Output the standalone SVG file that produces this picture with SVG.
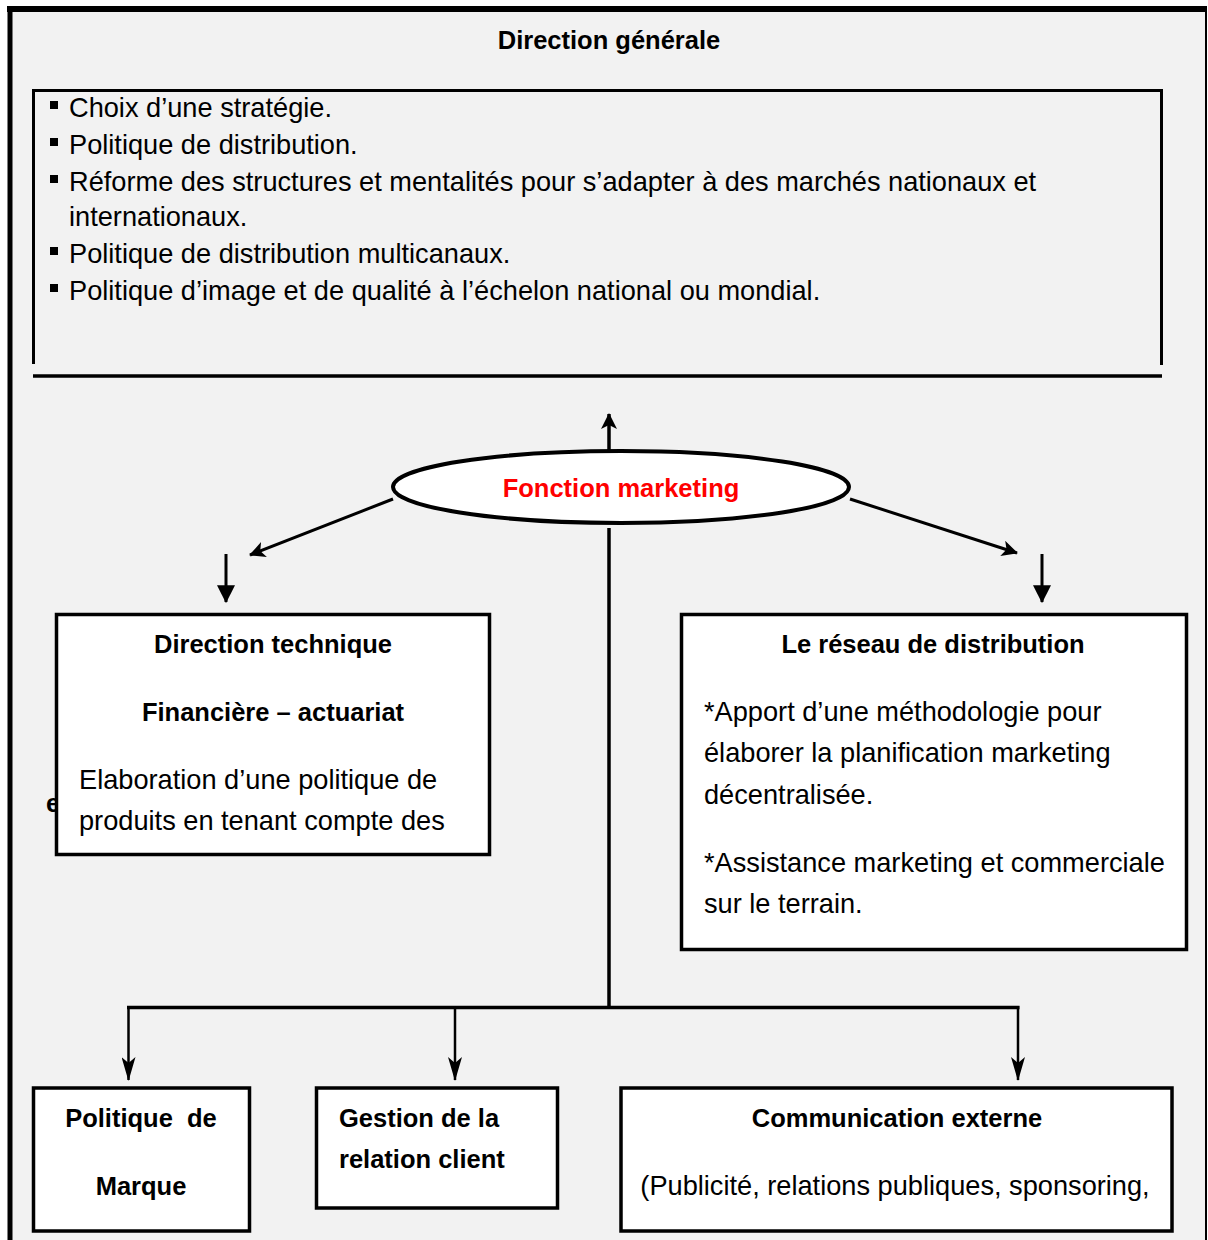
<svg xmlns="http://www.w3.org/2000/svg" width="1208" height="1240" viewBox="0 0 1208 1240">
  <style>
    .body { font-family: "Liberation Sans", Arial, sans-serif; font-size: 27.2px; fill: #000; }
    .bold { font-family: "Liberation Sans", Arial, sans-serif; font-size: 25.5px; font-weight: bold; fill: #000; }
    .title { font-family: "Liberation Sans", Arial, sans-serif; font-size: 25.5px; font-weight: bold; fill: #ff0000; }
    .box { fill: #ffffff; stroke: #000; stroke-width: 3.5; }
    .conn { stroke: #000; fill: none; }
    .mid { text-anchor: middle; }
  </style>
  <defs>
    <marker id="head" viewBox="0 0 16 16" refX="15" refY="8" markerWidth="16" markerHeight="16" markerUnits="userSpaceOnUse" orient="auto">
      <path d="M0,0 L16,8 L0,16 L4,8 z" fill="#000"/>
    </marker>
    <marker id="tri" viewBox="0 0 16 16" refX="15" refY="8" markerWidth="18" markerHeight="18" markerUnits="userSpaceOnUse" orient="auto">
      <path d="M0,0 L16,8 L0,16 z" fill="#000"/>
    </marker>
    <marker id="barb" viewBox="0 0 24 14" refX="23" refY="7" markerWidth="26" markerHeight="14" markerUnits="userSpaceOnUse" orient="auto">
      <path d="M0,0 L24,7 L0,14 L6,7 z" fill="#000"/>
    </marker>
  </defs>

  <!-- page background and outer frame -->
  <rect x="0" y="0" width="1208" height="1240" fill="#ffffff"/>
  <rect x="10" y="9" width="1196" height="1240" fill="#f2f2f2"/>
  <line x1="7" y1="9" x2="1207" y2="9" stroke="#000" stroke-width="6"/>
  <line x1="10" y1="6" x2="10" y2="1240" stroke="#000" stroke-width="5"/>
  <line x1="1206" y1="9" x2="1206" y2="1240" stroke="#000" stroke-width="2"/>

  <!-- Direction générale -->
  <g id="direction-generale">
    <text class="bold mid" x="609" y="49">Direction générale</text>
    <path class="conn" stroke-width="3" d="M33.5,364 V90.5 H1161.5 V365"/>
    <line class="conn" stroke-width="3.5" x1="33" y1="376" x2="1162" y2="376"/>
    <g fill="#000">
      <rect x="50" y="101" width="8" height="8"/>
      <rect x="50" y="138" width="8" height="8"/>
      <rect x="50" y="175" width="8" height="8"/>
      <rect x="50" y="247" width="8" height="8"/>
      <rect x="50" y="284" width="8" height="8"/>
    </g>
    <text class="body" x="69" y="117">Choix d’une stratégie.</text>
    <text class="body" x="69" y="154">Politique de distribution.</text>
    <text class="body" x="69" y="191">Réforme des structures et mentalités pour s’adapter à des marchés nationaux et</text>
    <text class="body" x="69" y="226">internationaux.</text>
    <text class="body" x="69" y="263">Politique de distribution multicanaux.</text>
    <text class="body" x="69" y="300">Politique d’image et de qualité à l’échelon national ou mondial.</text>
  </g>

  <!-- connectors -->
  <g id="connectors" class="conn">
    <line x1="609" y1="452" x2="609" y2="414" stroke-width="3.5" marker-end="url(#head)"/>
    <line x1="609" y1="528" x2="609" y2="1008" stroke-width="3.5"/>
    <line x1="393" y1="499" x2="250" y2="555" stroke-width="3" marker-end="url(#head)"/>
    <line x1="850" y1="499" x2="1017" y2="553" stroke-width="3" marker-end="url(#head)"/>
    <line x1="226" y1="554" x2="226" y2="602" stroke-width="3" marker-end="url(#tri)"/>
    <line x1="1042" y1="554" x2="1042" y2="602" stroke-width="3" marker-end="url(#tri)"/>
    <line x1="127" y1="1007.5" x2="1019.5" y2="1007.5" stroke-width="3.5"/>
    <line x1="128.5" y1="1006" x2="128.5" y2="1080" stroke-width="2.5" marker-end="url(#barb)"/>
    <line x1="455" y1="1007" x2="455" y2="1080" stroke-width="2.5" marker-end="url(#barb)"/>
    <line x1="1018" y1="1006" x2="1018" y2="1080" stroke-width="2.5" marker-end="url(#barb)"/>
  </g>

  <!-- Fonction marketing -->
  <g id="fonction-marketing">
    <ellipse cx="621" cy="487" rx="228" ry="36" fill="#ffffff" stroke="#000" stroke-width="4"/>
    <text class="title mid" x="621" y="497">Fonction marketing</text>
  </g>

  <!-- Direction technique -->
  <g id="direction-technique">
    <text class="bold" x="46" y="812">e</text>
    <rect class="box" x="56.5" y="614.5" width="433" height="240"/>
    <text class="bold mid" x="273" y="653">Direction technique</text>
    <text class="bold mid" x="273" y="721">Financière – actuariat</text>
    <text class="body" x="79" y="789">Elaboration d’une politique de</text>
    <text class="body" x="79" y="830">produits en tenant compte des</text>
  </g>

  <!-- Le réseau de distribution -->
  <g id="reseau-distribution">
    <rect class="box" x="681.5" y="614.5" width="505" height="335"/>
    <text class="bold mid" x="933" y="653">Le réseau de distribution</text>
    <text class="body" x="704" y="721">*Apport d’une méthodologie pour</text>
    <text class="body" x="704" y="762">élaborer la planification marketing</text>
    <text class="body" x="704" y="804">décentralisée.</text>
    <text class="body" x="704" y="872">*Assistance marketing et commerciale</text>
    <text class="body" x="704" y="913">sur le terrain.</text>
  </g>

  <!-- Politique de Marque -->
  <g id="politique-marque">
    <rect class="box" x="33.5" y="1088" width="216" height="143"/>
    <text class="bold mid" x="141" y="1127" xml:space="preserve">Politique  de</text>
    <text class="bold mid" x="141" y="1195">Marque</text>
  </g>

  <!-- Gestion de la relation client -->
  <g id="gestion-relation-client">
    <rect class="box" x="316.5" y="1088" width="241" height="120"/>
    <text class="bold" x="339" y="1127">Gestion de la</text>
    <text class="bold" x="339" y="1168">relation client</text>
  </g>

  <!-- Communication externe -->
  <g id="communication-externe">
    <rect class="box" x="621" y="1088" width="551" height="143"/>
    <text class="bold mid" x="897" y="1127">Communication externe</text>
    <text class="body mid" x="895" y="1195">(Publicité, relations publiques, sponsoring,</text>
  </g>
</svg>
